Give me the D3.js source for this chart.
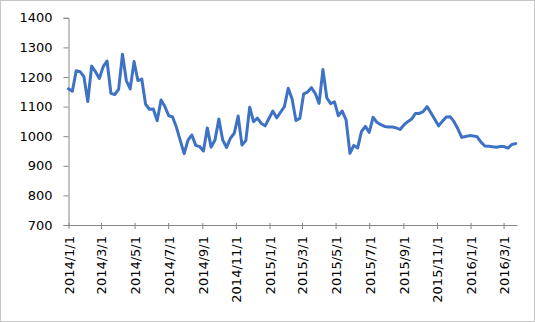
<!DOCTYPE html>
<html><head><meta charset="utf-8">
<script src="https://cdn.jsdelivr.net/npm/d3@7"></script>
<style>html,body{margin:0;padding:0;background:#fff;}svg{display:block;}</style>
</head><body>
<svg id="chart" width="535" height="322"></svg>
<script>
// weekly series starting 2014/1/1
const startDate = "2014/1/1";
const values = [
 1160,1152,1221,1218,1201,1117,1237,1218,1195,1235,1254,1145,1141,1158,1277,1188,1160,1252,1188,1193,1108,1091,1092,1052,1122,1100,1069,1065,1030,
 985,941,987,1004,969,965,950,1028,963,987,1058,987,962,993,1010,1068,970,985,1098,1049,1061,1043,1035,1060,1085,1062,1081,1100,1162,1126,1053,1060,1143,1149,1164,1145,1111,1225,1130,1110,1116,1069,1085,1055,
 942,969,960,1016,1033,1013,1064,1047,1039,1033,1031,1031,1028,1023,1038,1049,1058,1077,1077,1083,1100,1079,1057,1035,1051,1065,1066,1049,1025,996,999,1002,1001,998,980,967,966,964,963,965,965,960,972,975
];
const xTickLabels = ["2014/1/1","2014/3/1","2014/5/1","2014/7/1","2014/9/1","2014/11/1","2015/1/1","2015/3/1","2015/5/1","2015/7/1","2015/9/1","2015/11/1","2016/1/1","2016/3/1"];
const yTicks = [700,800,900,1000,1100,1200,1300,1400];

const parse = s => { const p = s.split("/").map(Number); return new Date(p[0], p[1]-1, p[2]); };
const t0 = parse(startDate);
const data = values.map((v,i) => ({date: d3.timeDay.offset(t0, 7*i), value: v}));

const svg = d3.select("#chart");
const font = "DejaVu Sans, Verdana, sans-serif";

// chart border
svg.append("rect").attr("x",0.5).attr("y",0.5).attr("width",534).attr("height",321)
  .attr("fill","none").attr("stroke","#8c8c8c").attr("stroke-dasharray","1,1");

const x = d3.scaleTime().domain([t0, data[data.length-1].date]).range([68.5, 515.7]);
const y = d3.scaleLinear().domain([700,1400]).range([225, 17.8]);

// y axis
const yAxis = svg.append("g").attr("transform","translate(68.5,0)")
  .call(d3.axisLeft(y).tickValues(yTicks).tickSize(5).tickPadding(11).tickFormat(d3.format("d")));
yAxis.select(".domain").attr("stroke","#868686");
yAxis.selectAll(".tick line").attr("stroke","#868686");
yAxis.selectAll(".tick text").attr("font-family",font).attr("font-size","13px").attr("fill","#000");

// x axis
const xTickDates = xTickLabels.map(parse);
const xAxis = svg.append("g").attr("transform","translate(0,"+y(700)+")")
  .call(d3.axisBottom(x).tickValues(xTickDates).tickSize(4).tickSizeOuter(0).tickFormat((d,i)=>xTickLabels[i]));
xAxis.select(".domain").attr("stroke","#868686").attr("d","M68.5,0.5H517.5");
xAxis.selectAll(".tick line").attr("stroke","#868686").attr("y1",-2);
xAxis.selectAll(".tick text")
  .attr("font-family",font).attr("font-size","13px").attr("fill","#000")
  .attr("text-anchor","end").attr("transform","rotate(-90)")
  .attr("x",-11).attr("y",0).attr("dy","0.38em");

// line
const line = d3.line().x(d=>x(d.date)).y(d=>y(d.value));
svg.append("path").datum(data).attr("d",line)
  .attr("fill","none").attr("stroke","#3d72c4").attr("stroke-width",3)
  .attr("stroke-linejoin","round").attr("stroke-linecap","round");
</script>
</body></html>
